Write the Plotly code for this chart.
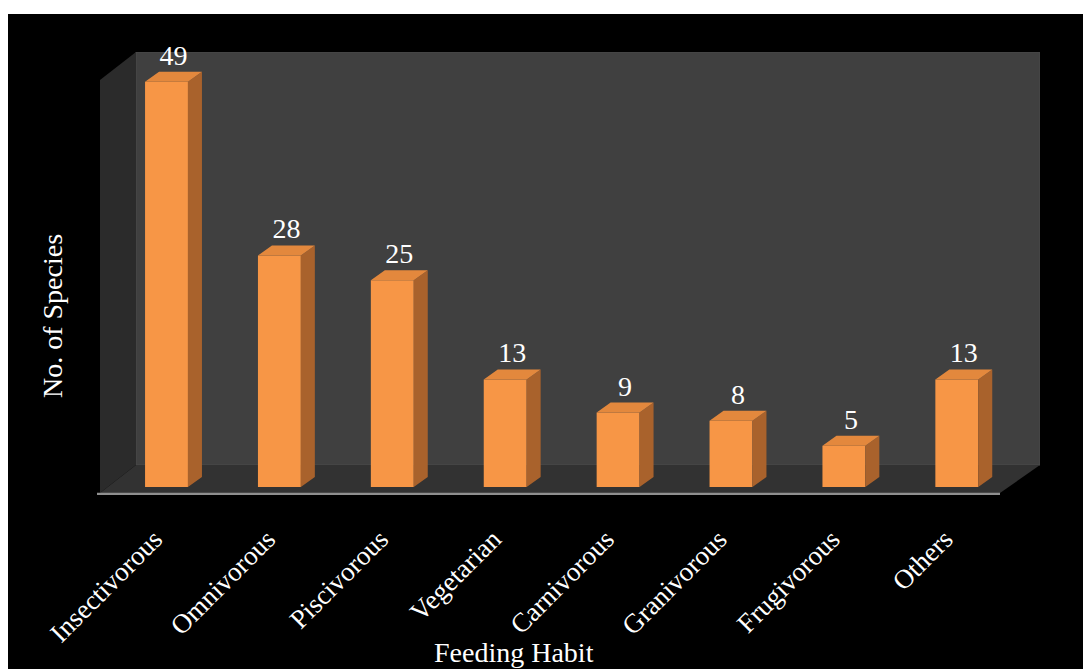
import plotly.graph_objects as go

categories = ["Insectivorous", "Omnivorous", "Piscivorous", "Vegetarian",
              "Carnivorous", "Granivorous", "Frugivorous", "Others"]
values = [49, 28, 25, 13, 9, 8, 5, 13]

W, H = 1083, 669
# plot area in pixels
L, R, T, B = 97, 1040, 52, 495
PX_PER_CAT = 112.9
PX_PER_VAL = 8.27
X0_PX = 166.5     # centre of first bar
Y0_PX = 487       # value 0

xmin = -(X0_PX - L) / PX_PER_CAT
xmax = xmin + (R - L) / PX_PER_CAT
ymin = -(B - Y0_PX) / PX_PER_VAL
ymax = (Y0_PX - T) / PX_PER_VAL


def X(px):
    return xmin + (px - L) / (R - L) * (xmax - xmin)


def Y(py):
    return ymin + (B - py) / (B - T) * (ymax - ymin)


def path(pts):
    return "M " + " L ".join(f"{X(a)},{Y(b)}" for a, b in pts) + " Z"


FONT = "Liberation Serif, Times New Roman, serif"
FS = 28
bw = 0.38
dx = 14 / PX_PER_CAT
dy = 10 / PX_PER_VAL

xs = list(range(len(categories)))

fig = go.Figure()

# front faces
fig.add_trace(go.Bar(x=xs, y=values, width=bw, marker=dict(color="#F79646", line=dict(width=0)),
                     hoverinfo="skip"))

# side and top faces
sx, sy = [], []
tx, ty = [], []
for x, v in zip(xs, values):
    r = x + bw / 2
    l = x - bw / 2
    sx += [r, r + dx, r + dx, r, r, None]
    sy += [0, dy, v + dy, v, 0, None]
    tx += [l, r, r + dx, l + dx, l, None]
    ty += [v, v, v + dy, v + dy, v, None]
fig.add_trace(go.Scatter(x=sx, y=sy, mode="lines", fill="toself", fillcolor="#A9622C",
                         line=dict(width=0, color="#A9622C"), hoverinfo="skip"))
fig.add_trace(go.Scatter(x=tx, y=ty, mode="lines", fill="toself", fillcolor="#E3883D",
                         line=dict(width=0, color="#E3883D"), hoverinfo="skip"))

# data labels
fig.add_trace(go.Scatter(x=[x + dx / 2 for x in xs], y=[v + dy for v in values], mode="text",
                         text=[str(v) for v in values], textposition="top center",
                         textfont=dict(family=FONT, size=FS, color="white"), hoverinfo="skip",
                         cliponaxis=False))

shapes = [
    # white border strips
    dict(type="rect", xref="paper", yref="paper",
         x0=(0 - L) / (R - L), x1=(W - L) / (R - L), y0=(B - 14) / (B - T), y1=(B - 0) / (B - T),
         fillcolor="white", line=dict(width=0), layer="below"),
    dict(type="rect", xref="paper", yref="paper",
         x0=(0 - L) / (R - L), x1=(8 - L) / (R - L), y0=(B - H) / (B - T), y1=(B - 0) / (B - T),
         fillcolor="white", line=dict(width=0), layer="below"),
    # back wall
    dict(type="path", xref="x", yref="y", path=path([(136, 52), (1040, 52), (1040, 465), (136, 465)]),
         fillcolor="#404040", line=dict(color="#4a4a4a", width=1), layer="below"),
    # left wall
    dict(type="path", xref="x", yref="y", path=path([(100, 80), (136, 52), (136, 465), (100, 493)]),
         fillcolor="#2b2b2b", line=dict(width=0), layer="below"),
    # floor
    dict(type="path", xref="x", yref="y", path=path([(100, 493), (1000, 493), (1040, 465), (136, 465)]),
         fillcolor="#323232", line=dict(width=0), layer="below"),
    # floor front edge
    dict(type="line", xref="x", yref="y", x0=X(97), x1=X(1000), y0=Y(494), y1=Y(494),
         line=dict(color="#8f8f8f", width=2.5), layer="below"),
]

annotations = [
    dict(text="Feeding Habit", xref="paper", yref="paper",
         x=(514 - L) / (R - L), y=(B - 652) / (B - T), showarrow=False,
         font=dict(family=FONT, size=FS, color="white"), xanchor="center", yanchor="middle"),
    dict(text="No. of Species", xref="paper", yref="paper",
         x=(52 - L) / (R - L), y=(B - 316) / (B - T), showarrow=False, textangle=-90,
         font=dict(family=FONT, size=FS, color="white"), xanchor="center", yanchor="middle"),
]

fig.update_layout(
    width=W, height=H,
    margin=dict(l=L, r=W - R, t=T, b=H - B, pad=0),
    paper_bgcolor="black", plot_bgcolor="black",
    showlegend=False,
    shapes=shapes, annotations=annotations,
    xaxis=dict(range=[xmin, xmax], tickmode="array", tickvals=xs, ticktext=categories,
               tickangle=-45, tickfont=dict(family=FONT, size=27, color="white"),
               ticklabelstandoff=22, ticklabelshift=-12,
               showgrid=False, zeroline=False, showline=False, ticks=""),
    yaxis=dict(range=[ymin, ymax], showticklabels=False, showgrid=False, zeroline=False,
               showline=False, ticks=""),
)

fig.write_html("out.html")
